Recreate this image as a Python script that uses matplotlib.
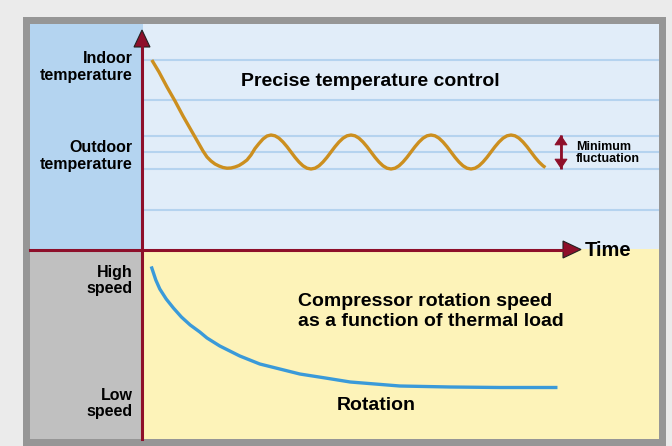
import matplotlib
matplotlib.use("Agg")
import matplotlib.pyplot as plt
from matplotlib.patches import Rectangle, Polygon
from matplotlib.lines import Line2D

plt.rcParams['font.family'] = ['Liberation Sans', 'DejaVu Sans']
plt.rcParams['font.weight'] = 'bold'

# Temperature trace (time units, temperature units)
temp_time = [1.1, 2, 3, 4, 5, 6, 7, 7.5, 8, 8.5, 9, 9.5, 10, 10.5, 11, 11.5,
             12, 12.5, 13, 13.5, 14, 14.5, 15, 15.5,
             16, 16.5, 17, 17.5, 18, 18.5, 19, 19.5, 20, 20.5,
             21, 21.5, 22, 22.5, 23, 23.5, 24, 24.5, 25, 25.5,
             26, 26.5, 27, 27.5, 28, 28.5, 29, 29.5, 30, 30.5,
             31, 31.5, 32, 32.5, 33, 33.5, 34, 34.5, 35, 35.5,
             36, 36.5, 37, 37.5, 38, 38.5, 39, 39.5, 40, 40.5,
             41, 41.5, 42, 42.5, 43, 43.5, 44, 44.5, 45, 45.5,
             46, 46.5, 47, 47.5, 48, 48.5, 49, 49.5, 50, 50.3]
temp_value = [19.2, 18.0, 16.5, 15.1, 13.6, 12.2, 10.8, 10.1, 9.5, 9.1, 8.8, 8.6, 8.45, 8.38, 8.4, 8.5,
              8.65, 8.9, 9.2, 9.7, 10.35, 10.85, 11.3, 11.6,
              11.7, 11.62, 11.38, 11.0, 10.53, 10.0, 9.47, 9.0, 8.62, 8.38,
              8.3, 8.38, 8.62, 9.0, 9.47, 10.0, 10.53, 11.0, 11.38, 11.62,
              11.7, 11.62, 11.38, 11.0, 10.53, 10.0, 9.47, 9.0, 8.62, 8.38,
              8.3, 8.38, 8.62, 9.0, 9.47, 10.0, 10.53, 11.0, 11.38, 11.62,
              11.7, 11.62, 11.38, 11.0, 10.53, 10.0, 9.47, 9.0, 8.62, 8.38,
              8.3, 8.38, 8.62, 9.0, 9.47, 10.0, 10.53, 11.0, 11.38, 11.62,
              11.7, 11.62, 11.38, 11.0, 10.53, 10.0, 9.47, 9.0, 8.62, 8.45]
temp_grid = [19.2, 15.2, 11.6, 10.0, 8.3, 4.2]
band_low, band_high = 8.3, 11.7
temp_ticks = [18.7, 9.8]
temp_labels = ['Indoor\ntemperature', 'Outdoor\ntemperature']

# Compressor speed trace
speed_time = [1.1, 1.35, 1.6, 2.1, 2.5, 2.9, 3.8, 4.8, 5.9, 7.1, 8.0, 9.6, 12.1, 14.6, 17.1,
              19.6, 22.8, 25.9, 29.0, 32.1, 38.4, 44.6, 51.6]
speed_value = [17.1, 16.5, 15.9, 15.0, 14.5, 14.0, 13.1, 12.2, 11.4, 10.7, 10.1, 9.3, 8.3, 7.5, 7.0,
               6.5, 6.1, 5.7, 5.5, 5.3, 5.2, 5.15, 5.15]
speed_ticks = [16.1, 3.75]
speed_labels = ['High\nspeed', 'Low\nspeed']

W, H = 672, 446
RED = '#8e0f2a'

fig = plt.figure(figsize=(W / 100, H / 100), dpi=100)
fig.patch.set_facecolor('#ebebeb')


def px_box(x0, y0, x1, y1):
    return [x0 / W, 1 - y1 / H, (x1 - x0) / W, (y1 - y0) / H]


def add_rect(x0, y0, x1, y1, color):
    l, b, w, h = px_box(x0, y0, x1, y1)
    fig.patches.append(Rectangle((l, b), w, h, transform=fig.transFigure,
                                 facecolor=color, edgecolor='none', zorder=-5))


# frame and left column
add_rect(23, 17, 666, 446, '#969696')
add_rect(30, 24, 143, 249, '#b4d4f0')
add_rect(30, 249, 143, 439, '#c0c0c0')

# top panel: temperature
ax_t = fig.add_axes(px_box(143, 24, 659, 249))
ax_t.set_facecolor('#e1edf9')
ax_t.set_xlim(0, 64.5)
ax_t.set_ylim(0.3, 22.8)
for lvl in temp_grid:
    ax_t.axhline(lvl, color='#b5d3ef', lw=1.5, zorder=1)
ax_t.plot(temp_time, temp_value, color='#cc8f1f', lw=2.4, zorder=3,
          solid_capstyle='butt', solid_joinstyle='round')
# fluctuation band marker
ax_t.vlines(52.25, band_low, band_high, color=RED, lw=2.0, zorder=4)
ax_t.annotate('', xy=(52.25, band_high), xytext=(52.25, band_low),
              arrowprops=dict(arrowstyle='<|-|>,head_length=0.45,head_width=0.3',
                              color=RED, lw=0.8,
                              mutation_scale=14, shrinkA=0, shrinkB=0))
ax_t.text(54.1, 9.9, 'Minimum\nfluctuation', fontsize=9, va='center', ha='left',
          linespacing=1.0)
ax_t.text(28.4, 17.0, 'Precise temperature control', fontsize=14,
          ha='center', va='center')
ax_t.set_xticks([])
ax_t.set_yticks(temp_ticks)
ax_t.set_yticklabels(temp_labels, fontsize=11.5, linespacing=1.1)
ax_t.tick_params(axis='y', length=0, pad=7.5)
for s in ax_t.spines.values():
    s.set_visible(False)

# bottom panel: compressor speed
ax_s = fig.add_axes(px_box(143, 249, 659, 439))
ax_s.set_facecolor('#fdf3b9')
ax_s.set_xlim(0, 64.5)
ax_s.set_ylim(0, 19)
ax_s.plot(speed_time, speed_value, color='#3a9ad9', lw=2.4, zorder=3,
          solid_joinstyle='round')
ax_s.text(19.4, 12.75, 'Compressor rotation speed\nas a function of thermal load',
          fontsize=14, ha='left', va='center', linespacing=1.25)
ax_s.text(29.2, 3.3, 'Rotation', fontsize=14, ha='center', va='center')
ax_s.set_xticks([])
ax_s.set_yticks(speed_ticks)
ax_s.set_yticklabels(speed_labels, fontsize=11.5, linespacing=1.1)
ax_s.tick_params(axis='y', length=0, pad=7.5)
for s in ax_s.spines.values():
    s.set_visible(False)

# overlay for the axis arrows
ov = fig.add_axes([0, 0, 1, 1], zorder=10)
ov.set_xlim(0, W)
ov.set_ylim(H, 0)
ov.axis('off')
ov.add_line(Line2D([30, 565], [249.5, 249.5], color=RED, lw=2.2))
ov.add_line(Line2D([142, 142], [439, 45], color=RED, lw=2.2))
ov.add_patch(Polygon([[134, 47], [150, 47], [142, 30]], closed=True,
                     facecolor=RED, edgecolor='#222222', lw=0.8))
ov.add_patch(Polygon([[563, 241], [563, 258], [581, 249.5]], closed=True,
                     facecolor=RED, edgecolor='#222222', lw=0.8))
ov.text(585, 251, 'Time', fontsize=14.5, ha='left', va='center')

fig.savefig('out.png', dpi=100)
